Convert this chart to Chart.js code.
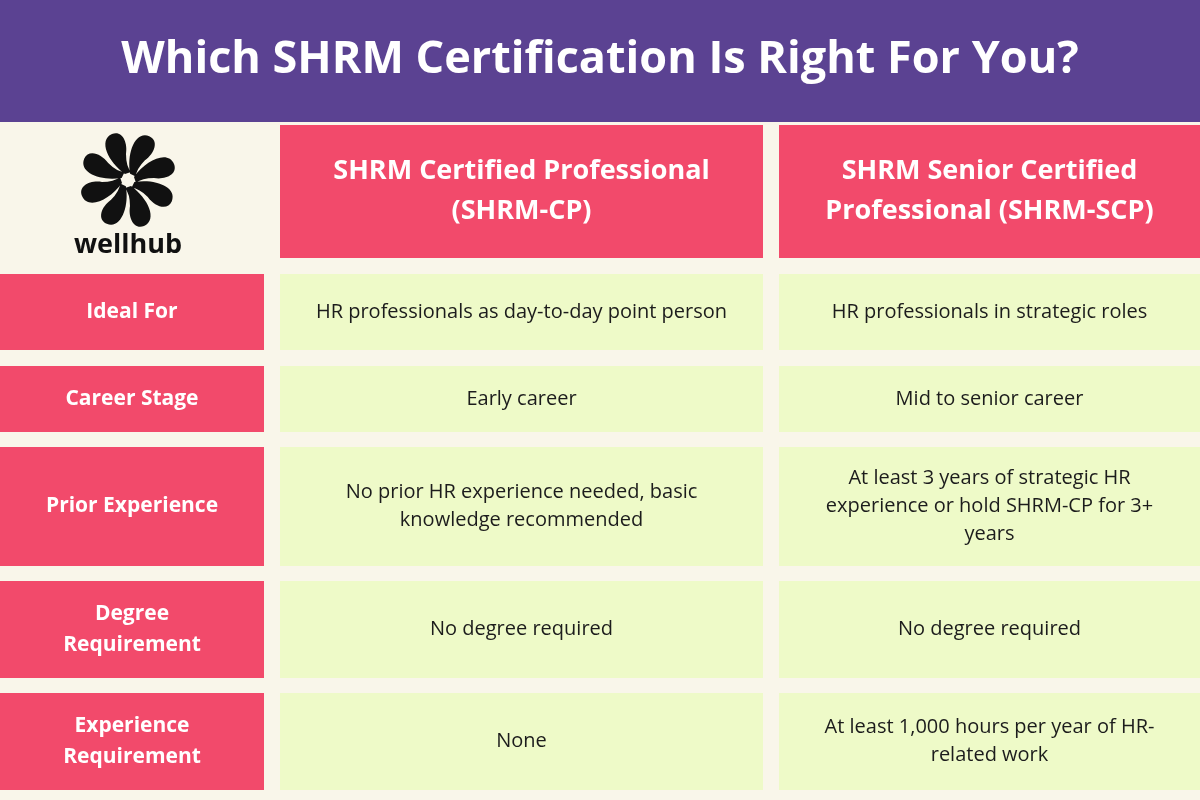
<!DOCTYPE html>
<html>
<head>
<meta charset="utf-8">
<script src="https://cdn.jsdelivr.net/npm/chart.js@4"></script>
<style>
  html, body { margin: 0; padding: 0; background: #f9f6ea; }
  canvas { display: block; }
</style>
</head>
<body>
<canvas id="table" width="1200" height="800"></canvas>
<script>
// Table content
const title = 'Which SHRM Certification Is Right For You?';
const columnHeaders = [
  ['SHRM Certified Professional', '(SHRM-CP)'],
  ['SHRM Senior Certified', 'Professional (SHRM-SCP)']
];
const rowLabels = [
  ['Ideal For'],
  ['Career Stage'],
  ['Prior Experience'],
  ['Degree', 'Requirement'],
  ['Experience', 'Requirement']
];
const cpValues = [
  ['HR professionals as day-to-day point person'],
  ['Early career'],
  ['No prior HR experience needed, basic', 'knowledge recommended'],
  ['No degree required'],
  ['None']
];
const scpValues = [
  ['HR professionals in strategic roles'],
  ['Mid to senior career'],
  ['At least 3 years of strategic HR', 'experience or hold SHRM-CP for 3+', 'years'],
  ['No degree required'],
  ['At least 1,000 hours per year of HR-', 'related work']
];

// Layout (in scale units = page pixels)
const colEdges = [[0, 264], [280, 763], [779, 1200]];
const headerBand = [125, 258];
const rowBands = [[274, 350], [366, 432], [447, 566], [581, 678], [693, 790]];

const COLORS = {
  purple: '#5b4292',
  cream: '#f9f6ea',
  pink: '#f24a6b',
  green: '#eefac8',
  text: '#1c1c1c',
  white: '#ffffff'
};
const FONT = '"Open Sans", Inter, sans-serif';

function drawLines(ctx, lines, cx, cy, lh) {
  const top = cy - (lines.length - 1) * lh / 2;
  lines.forEach((l, i) => ctx.fillText(l, cx, top + i * lh));
}

const tablePlugin = {
  id: 'tablePlugin',
  afterDraw(chart) {
    const ctx = chart.ctx;
    const xs = chart.scales.x, ys = chart.scales.y;
    const X = v => xs.getPixelForValue(v);
    const Y = v => ys.getPixelForValue(v);
    const rect = (x0, x1, y0, y1, c) => {
      ctx.fillStyle = c;
      ctx.fillRect(X(x0), Y(y0), X(x1) - X(x0), Y(y1) - Y(y0));
    };
    ctx.save();
    ctx.textAlign = 'center';
    ctx.textBaseline = 'middle';

    // title band
    rect(0, 1200, 0, 122, COLORS.purple);
    ctx.fillStyle = COLORS.white;
    ctx.font = 'bold 45px ' + FONT;
    ctx.fillText(title, X(600), Y(60));

    // column headers
    columnHeaders.forEach((h, i) => {
      const [a, b] = colEdges[i + 1];
      rect(a, b, headerBand[0], headerBand[1], COLORS.pink);
      ctx.fillStyle = COLORS.white;
      ctx.font = 'bold 27px ' + FONT;
      drawLines(ctx, h, X((a + b) / 2), Y((headerBand[0] + headerBand[1]) / 2), 40);
    });

    // logo: swirl of curved petals
    const lx = X(128), ly = Y(180);
    ctx.fillStyle = '#111';
    for (let k = 0; k < 8; k++) {
      ctx.save();
      ctx.translate(lx, ly);
      ctx.rotate(k * Math.PI / 4);
      ctx.beginPath();
      ctx.moveTo(6, -3);
      ctx.bezierCurveTo(18, -20, 40, -30, 46, -16);
      ctx.bezierCurveTo(50, -6, 38, 0, 26, -2);
      ctx.quadraticCurveTo(14, -2, 8, 3);
      ctx.closePath();
      ctx.fill();
      ctx.restore();
    }
    ctx.font = 'bold 27px ' + FONT;
    ctx.fillText('wellhub', X(128), Y(245));

    // body rows
    rowBands.forEach(([y0, y1], r) => {
      const cy = Y((y0 + y1) / 2);
      rect(colEdges[0][0], colEdges[0][1], y0, y1, COLORS.pink);
      ctx.fillStyle = COLORS.white;
      ctx.font = 'bold 21px ' + FONT;
      drawLines(ctx, rowLabels[r], X(132), cy, 31);

      [cpValues, scpValues].forEach((vals, c) => {
        const [a, b] = colEdges[c + 1];
        rect(a, b, y0, y1, COLORS.green);
        ctx.fillStyle = COLORS.text;
        ctx.font = '20px ' + FONT;
        drawLines(ctx, vals[r], X((a + b) / 2), cy, 28);
      });
    });
    ctx.restore();
  }
};

new Chart(document.getElementById('table'), {
  type: 'scatter',
  data: { datasets: [{ data: [] }] },
  options: {
    responsive: false,
    animation: false,
    devicePixelRatio: 1,
    layout: { padding: 0 },
    plugins: { legend: { display: false }, tooltip: { enabled: false } },
    scales: {
      x: { type: 'linear', min: 0, max: 1200, display: false },
      y: { type: 'linear', min: 0, max: 800, reverse: true, display: false }
    }
  },
  plugins: [tablePlugin]
});
</script>
</body>
</html>
